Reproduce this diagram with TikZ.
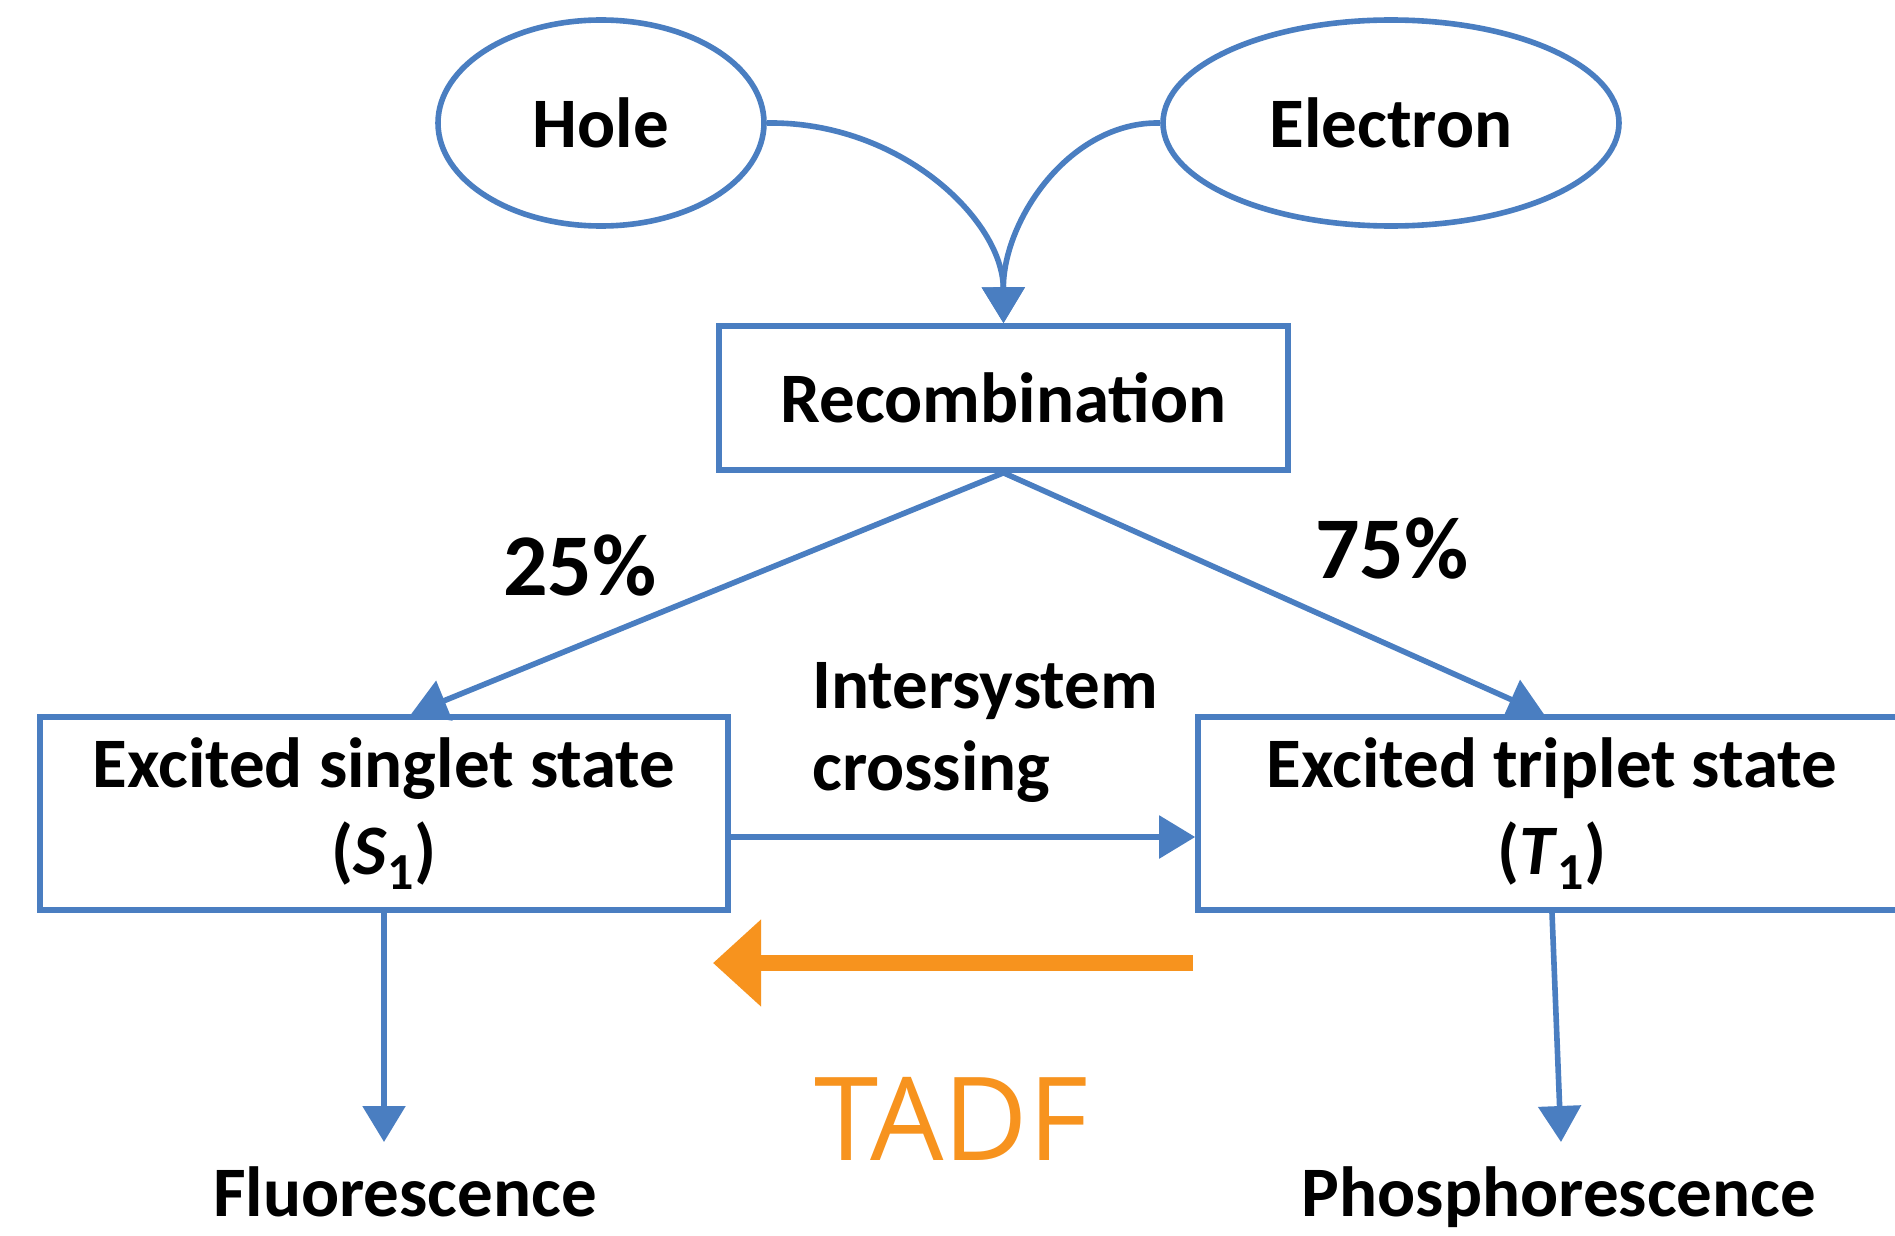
\documentclass[tikz,border=0pt]{standalone}
\usepackage{fontspec}
\setmainfont{Carlito}
\newfontfamily\tadffont{Open Sans}
\usetikzlibrary{shapes.geometric,arrows.meta}
\definecolor{lineblue}{RGB}{74,126,193}
\definecolor{tadforange}{RGB}{247,147,30}
\newcommand{\subone}{\raisebox{-0.22em}{\fontsize{26}{26}\selectfont 1}}
\begin{document}
\begin{tikzpicture}[x=0.5pt,y=-0.5pt,
  lbl/.style={font=\fontsize{35.5}{43.5}\selectfont\bfseries, text=black},
  box/.style={draw=lineblue, line width=2.8pt, inner sep=0pt, align=center, lbl},
  oval/.style={ellipse, draw=lineblue, line width=2.8pt, inner sep=0pt, lbl},
  conn/.style={draw=lineblue, line width=2.8pt, -{Triangle[length=18pt,width=21pt]}},
  pct/.style={font=\fontsize{44}{52}\selectfont\bfseries, text=black, inner sep=0pt, anchor=base},
  tadfarrow/.style={draw=tadforange, line width=8pt, -{Triangle[length=24pt,width=42pt]}}]
\useasboundingbox (0,0) rectangle (1895,1236);
\clip (0,0) rectangle (1895,1236);
\fill[white] (0,0) rectangle (1895,1236);

% nodes
\node[oval, minimum width=163pt, minimum height=103pt] (hole) at (601,123) {Hole};
\node[oval, minimum width=228pt, minimum height=103pt] (elec) at (1391,123) {Electron};
\node[box, minimum width=284.5pt, minimum height=72pt] (rec) at (1003.5,398) {Recombination};
\node[box, minimum width=344pt, minimum height=96.5pt] (sing) at (384,813.5) {Excited singlet state\\(\textit{S}\subone)};
\node[box, minimum width=354pt, minimum height=96.5pt] (trip) at (1552,813.5) {Excited triplet state\\(\textit{T}\subone)};
\node[lbl, align=left, anchor=west, inner sep=0pt, font=\fontsize{35.5}{41}\selectfont\bfseries] (isc) at (812,732) {Intersystem\\crossing};
\node[pct] (p25) at (580,595) {25\%};
\node[pct] (p75) at (1392,578) {75\%};
\node[lbl, anchor=base, inner sep=0pt] (fl) at (405,1216) {Fluorescence};
\node[lbl, anchor=base, inner sep=0pt] (ph) at (1559,1216) {Phosphorescence};
\node[font=\tadffont\fontsize{58}{68}\selectfont, text=tadforange, anchor=base, inner sep=0pt] (tadf) at (951,1160) {TADF};

% helper coordinates
\coordinate (iscy) at (0,837);
\coordinate (fltip) at (384,1142);
\coordinate (phtip) at (1561,1142);
\coordinate (tadfS) at (1193,963);
\coordinate (tadfE) at (713,963);

% connectors
\draw[conn] (hole.east) .. controls (900,121) and (1003,220) .. (rec.north);
\draw[conn] (elec.west) .. controls (1070,121) and (1003,220) .. (rec.north);
\draw[conn] (rec.south) -- ([xshift=13.5pt]sing.north);
\draw[conn] (rec.south) -- ([xshift=-4pt]trip.north);
\draw[conn] (sing.east |- iscy) -- (trip.west |- iscy);
\draw[conn] (sing.south) -- (fltip);
\draw[conn] (trip.south) -- (phtip);
\draw[tadfarrow] (tadfS) -- (tadfE);
\end{tikzpicture}
\end{document}
